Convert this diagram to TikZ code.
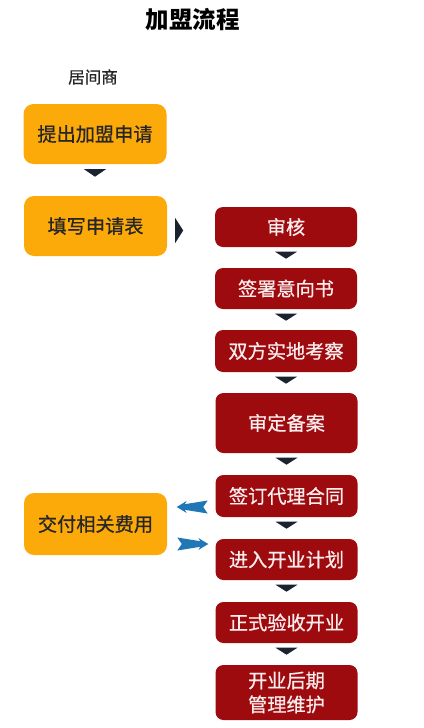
\documentclass[tikz,border=0pt]{standalone}
\usepackage{fontspec}
\setmainfont{Noto Sans CJK SC}
\newfontfamily\boxfont{Noto Sans CJK SC}[FakeBold=0.7]
\usetikzlibrary{calc}
\definecolor{orangebox}{HTML}{FCA90A}
\definecolor{redbox}{HTML}{9E0B0F}
\definecolor{tri}{HTML}{1C2230}
\definecolor{bluearr}{HTML}{2077B5}
\definecolor{darktext}{HTML}{262626}
\definecolor{lighttext}{HTML}{FBEDED}
\tikzset{
  obox/.style={rectangle, rounded corners=10pt, fill=orangebox, minimum width=143pt, minimum height=60pt,
    font=\boxfont\fontsize{19.2}{24}\selectfont, text=darktext, inner sep=0pt},
  rbox/.style={rectangle, rounded corners=8pt, fill=redbox, minimum width=142pt, minimum height=41pt,
    font=\boxfont\fontsize{19.2}{24}\selectfont, text=lighttext, inner sep=0pt, align=center},
  trifill/.style={fill=tri},
  barrow/.style={fill=bluearr}
}
\newcommand{\downtri}[1]{\fill[trifill] ($(#1.south)+(-11,4.5)$) -- ++(22,0) -- ++(-11,7) -- cycle;}
\begin{document}
\begin{tikzpicture}[x=1pt,y=-1pt]
\useasboundingbox (0,0) rectangle (423,728);
\node[font=\fontsize{23.5}{28}\selectfont\bfseries] (title) at (192.5,20) {加盟流程};
\node[font=\boxfont\fontsize{16.5}{20}\selectfont, text=darktext] (role) at (93,77) {居间商};
% orange boxes
\node[obox] (o1) at (95,134) {提出加盟申请};
\node[obox] (o2) at (95.5,226) {填写申请表};
\node[obox, minimum height=62pt] (o3) at (95.5,524) {交付相关费用};
% red boxes
\node[rbox, minimum height=40pt] (r1) at (286,227) {审核};
\node[rbox] (r2) at (286,288.5) {签署意向书};
\node[rbox, minimum height=42pt] (r3) at (286,351) {双方实地考察};
\node[rbox, minimum height=60pt] (r4) at (286.5,423) {审定备案};
\node[rbox, minimum height=42pt] (r5) at (286.5,496) {签订代理合同};
\node[rbox] (r6) at (286.5,559.5) {进入开业计划};
\node[rbox] (r7) at (286.5,622.5) {正式验收开业};
\node[rbox, minimum height=55pt] (r8) at (286.5,692.5) {开业后期\\管理维护};
% down triangles
\fill[trifill] ($(o1.south)+(-11,5)$) -- ++(22,0) -- ++(-11,7.5) -- cycle;
\downtri{r1}
\downtri{r2}
\downtri{r3}
\downtri{r4}
\downtri{r5}
\downtri{r6}
\downtri{r7}
% right triangle between o2 and r1
\coordinate (rt) at ($(o2.east)+(8,4.5)$);
\fill[trifill] ($(rt)+(0,-12.5)$) -- ($(rt)+(0,12.5)$) -- ($(rt)+(8,0)$) -- cycle;
% blue arrows
\coordinate (a1) at ($(o3.east)+(9.5,-17)$);
\fill[barrow] (a1) -- ++(10,6) -- ++(-2,-3.2) -- ++(23,3.7) -- ++(-4.5,-6.5) -- ++(4.5,-6.5) -- ++(-23,3.7) -- ++(2,-3.2) -- cycle;
\coordinate (a2) at ($(r6.west)+(-7,-15.5)$);
\fill[barrow] (a2) -- ++(-10,6) -- ++(2,-3.2) -- ++(-23,3.7) -- ++(4.5,-6.5) -- ++(-4.5,-6.5) -- ++(23,3.7) -- ++(-2,-3.2) -- cycle;
\end{tikzpicture}
\end{document}
